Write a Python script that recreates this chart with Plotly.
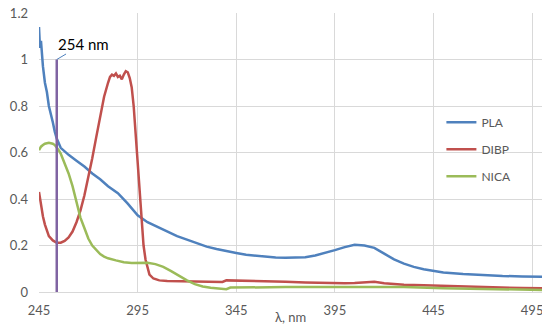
import plotly.graph_objects as go

# wavelength (nm) / absorbance
pla_x = [245, 245.5, 246, 246.5, 247, 248, 249, 250, 251, 252, 253, 254, 256, 258, 260, 264, 268, 272,
         276, 280, 285, 290, 295, 300, 305, 310, 315, 320, 325, 330, 335, 340, 345, 350, 355, 360,
         365, 370, 375, 380, 385, 390, 395, 400, 405, 410, 415, 420, 425, 430, 435, 440, 445, 450,
         460, 470, 480, 490, 500]
pla_y = [1.14, 1.05, 1.08, 1.0, 0.97, 0.9, 0.86, 0.8, 0.77, 0.73, 0.69, 0.66, 0.62, 0.605, 0.59, 0.565, 0.54, 0.51,
         0.485, 0.455, 0.425, 0.38, 0.33, 0.3, 0.28, 0.26, 0.24, 0.225, 0.21, 0.195, 0.185, 0.175, 0.168, 0.16, 0.155, 0.15,
         0.148, 0.147, 0.147, 0.15, 0.157, 0.167, 0.18, 0.193, 0.203, 0.2, 0.19, 0.165, 0.14, 0.122, 0.108, 0.098, 0.09, 0.084,
         0.077, 0.072, 0.069, 0.067, 0.066]

dibp_x = [245, 246, 247, 248, 249, 250, 252, 254, 256, 258, 260, 262, 264, 266, 268, 270, 272, 274, 276, 278,
          280, 281, 282, 283, 284, 285, 286, 287, 288, 289, 290, 291, 292, 293, 294, 295, 296, 297, 298, 299,
          300, 301, 303, 306, 310, 320, 330, 338, 340, 350, 360, 370, 380, 390, 400, 405, 410, 415, 420,
          425, 430, 440, 450, 460, 470, 480, 490, 500]
dibp_y = [0.43, 0.37, 0.325, 0.29, 0.26, 0.24, 0.222, 0.212, 0.212, 0.22, 0.235, 0.26, 0.3, 0.35, 0.415, 0.49, 0.575, 0.665, 0.755, 0.84,
          0.9, 0.925, 0.935, 0.93, 0.94, 0.925, 0.93, 0.915, 0.935, 0.95, 0.945, 0.92, 0.88, 0.8, 0.68, 0.55, 0.42, 0.3, 0.2, 0.14,
          0.1, 0.075, 0.058, 0.05, 0.047, 0.046, 0.045, 0.043, 0.05, 0.049, 0.047, 0.044, 0.041, 0.038, 0.038, 0.039, 0.043, 0.044, 0.038,
          0.033, 0.031, 0.029, 0.026, 0.023, 0.021, 0.019, 0.017, 0.016]

nica_x = [245, 246, 247, 248, 250, 252, 253, 254, 255, 256, 258, 260, 262, 264, 266, 268, 270, 272, 274, 276,
          278, 280, 284, 288, 292, 296, 300, 304, 308, 312, 316, 320, 324, 328, 332, 336, 340, 342, 350,
          370, 400, 430, 450, 470, 500]
nica_y = [0.61, 0.625, 0.632, 0.638, 0.642, 0.638, 0.632, 0.622, 0.61, 0.595, 0.555, 0.51, 0.455, 0.39, 0.32, 0.275, 0.23, 0.2, 0.18, 0.163,
          0.152, 0.145, 0.136, 0.128, 0.125, 0.127, 0.126, 0.12, 0.108, 0.09, 0.07, 0.05, 0.034, 0.024, 0.018, 0.014, 0.012, 0.019, 0.02,
          0.021, 0.022, 0.021, 0.016, 0.012, 0.009]

# 254 nm marker
mark_x = [254, 254]
mark_y = [0, 1]

font = "Lato, Arial, sans-serif"
grey = "#595959"
grid = "#D9D9D9"

fig = go.Figure()

fig.add_trace(go.Scatter(x=pla_x, y=pla_y, mode="lines", name="PLA",
                         line=dict(color="#4F81BD", width=2.5), legendgroup="a"))
fig.add_trace(go.Scatter(x=dibp_x, y=dibp_y, mode="lines", name="DIBP",
                         line=dict(color="#C0504D", width=2.5), legendgroup="b"))
fig.add_trace(go.Scatter(x=nica_x, y=nica_y, mode="lines", name="NICA",
                         line=dict(color="#9BBB59", width=2.5), legendgroup="c"))
fig.add_trace(go.Scatter(x=mark_x, y=mark_y, mode="lines", showlegend=False,
                         line=dict(color="#8064A2", width=2.5)))

fig.add_annotation(x=254, y=1, xref="x", yref="y", text="254 nm",
                   showarrow=True, arrowhead=0, arrowwidth=1, arrowcolor="#4F81BD",
                   ax=27, ay=-16, font=dict(family=font, size=15, color="black"))

# axis title placed by hand (Excel puts it almost level with the tick labels)
fig.add_annotation(x=0.5, y=0, xref="paper", yref="paper", yshift=-25,
                   text="λ, nm", showarrow=False, yanchor="middle",
                   font=dict(family=font, size=13, color=grey))

# page body has an 8px margin, so the figure is a bit smaller than the window
fig.update_layout(
    width=542, height=323,
    margin=dict(l=31, r=8, t=5, b=39),
    paper_bgcolor="white", plot_bgcolor="white",
    font=dict(family=font, size=13, color=grey),
    legend=dict(x=0.80, y=0.66, xanchor="left", yanchor="top",
                bgcolor="rgba(0,0,0,0)", traceorder="grouped", tracegroupgap=8,
                font=dict(family=font, size=12, color=grey)),
    xaxis=dict(range=[245, 500], tick0=245, dtick=50, showgrid=True, gridcolor=grid,
               showline=True, linecolor=grid, zeroline=False, ticks="",
               ticklabelstandoff=6, automargin=False, ticklabeloverflow="allow"),
    yaxis=dict(range=[0, 1.2], dtick=0.2, showgrid=True, gridcolor=grid,
               zeroline=False, ticks="", showline=False,
               ticklabelstandoff=10, automargin=False, ticklabeloverflow="allow"),
)

fig.write_html("out.html")
